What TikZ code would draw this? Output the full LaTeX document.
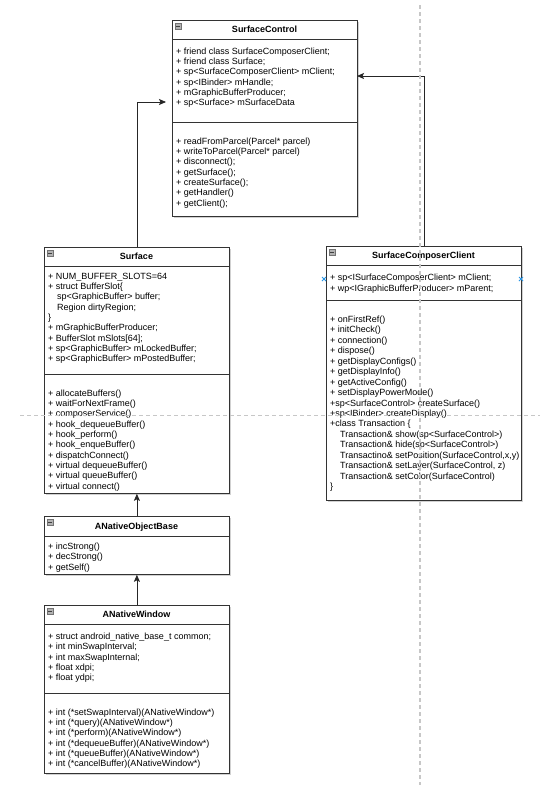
\documentclass[tikz,border=0pt]{standalone}
\usepackage{fontspec}
\setmainfont{Liberation Sans}
\usetikzlibrary{arrows.meta,shadows,calc}
\definecolor{mk}{RGB}{41,150,230}
\tikzset{
  box/.style={draw=black!80, fill=white, line width=0.8pt, inner sep=0pt, anchor=north west,
    drop shadow={shadow xshift=1.2pt, shadow yshift=-1.2pt, opacity=0.18, fill=black}},
  sepline/.style={draw=black!80, line width=0.8pt},
  txt/.style={anchor=north west, inner sep=0pt, align=left, font=\fontsize{9}{10.35}\selectfont},
  txtb/.style={anchor=north west, inner sep=0pt, align=left, font=\fontsize{9}{10.45}\selectfont},
  ttl/.style={anchor=base, inner sep=0pt, font=\fontsize{9}{10.35}\selectfont\bfseries},
  ico/.style={fill=black!30, draw=black!55, line width=0.4pt},
  icominus/.style={draw=black!75, line width=0.6pt},
  conn/.style={draw=black!85, line width=0.8pt, -{Stealth[length=7pt,width=6pt,inset=1.5pt]}},
  guide/.style={draw=black!22, dash pattern=on 4pt off 3pt, line width=1.2pt},
  marker/.style={draw=mk, line width=0.9pt}
}
\begin{document}
\begin{tikzpicture}[x=1pt,y=-1pt]
\useasboundingbox (0,0) rectangle (540,785);
\fill[white] (0,0) rectangle (540,785);

% ---------------- SurfaceControl ----------------
\node[box, minimum width=185pt, minimum height=196pt] (sc) at (172,20) {};
\draw[ico] (175,23) rectangle (181,29);
\draw[icominus] (176.3,26) -- (179.7,26);
\node[ttl] (sct) at (264.5,32.7) {SurfaceControl};
\draw[sepline] (172,39) -- (357,39);
\draw[sepline] (172,122) -- (357,122);
\node[txt] (sca) at (176,46.65) {\strut + friend class SurfaceComposerClient;\\
+ friend class Surface;\\
+ sp<SurfaceComposerClient> mClient;\\
+ sp<IBinder> mHandle;\\
+ mGraphicBufferProducer;\\
+ sp<Surface> mSurfaceData};
\node[txt] (scm) at (176,136.65) {\strut + readFromParcel(Parcel* parcel)\\
+ writeToParcel(Parcel* parcel)\\
+ disconnect();\\
+ getSurface();\\
+ createSurface();\\
+ getHandler()\\
+ getClient();};

% ---------------- Surface ----------------
\node[box, minimum width=185pt, minimum height=246pt] (sf) at (44,247) {};
\draw[ico] (47,250) rectangle (53,256);
\draw[icominus] (48.3,253) -- (51.7,253);
\node[ttl] (sft) at (136.5,259.7) {Surface};
\draw[sepline] (44,266) -- (229,266);
\draw[sepline] (44,374.3) -- (229,374.3);
\node[txt] (sfa) at (48,271.65) {\strut + NUM\_BUFFER\_SLOTS=64\\
+ struct BufferSlot\{\\
\hspace*{9pt}sp<GraphicBuffer> buffer;\\
\hspace*{9pt}Region dirtyRegion;\\
\}\\
+ mGraphicBufferProducer;\\
+ BufferSlot mSlots[64];\\
+ sp<GraphicBuffer> mLockedBuffer;\\
+ sp<GraphicBuffer> mPostedBuffer;};
\node[txt] (sfm) at (48,388.65) {\strut + allocateBuffers()\\
+ waitForNextFrame()\\
+ composerService()\\
+ hook\_dequeueBuffer()\\
+ hook\_perform()\\
+ hook\_enqueBuffer()\\
+ dispatchConnect()\\
+ virtual dequeueBuffer()\\
+ virtual queueBuffer()\\
+ virtual connect()};

% ---------------- SurfaceComposerClient ----------------
\node[box, minimum width=195pt, minimum height=254pt] (scc) at (326,246) {};
\draw[ico] (329,249) rectangle (335,255);
\draw[icominus] (330.3,252) -- (333.7,252);
\node[ttl] (scct) at (423.5,258.7) {SurfaceComposerClient};
\draw[sepline] (326,265) -- (521,265);
\draw[sepline] (326,300.7) -- (521,300.7);
\node[txt] (scca) at (330,273.25) {\strut + sp<ISurfaceComposerClient> mClient;\\
+ wp<IGraphicBufferProducer> mParent;};
\node[txtb] (sccm) at (330,314.95) {\strut + onFirstRef()\\
+ initCheck()\\
+ connection()\\
+ dispose()\\
+ getDisplayConfigs()\\
+ getDisplayInfo()\\
+ getActiveConfig()\\
+ setDisplayPowerMode()\\
+sp<SurfaceControl> createSurface()\\
+sp<IBinder> createDisplay()\\
+class Transaction \{\\
\hspace*{10pt}Transaction\& show(sp<SurfaceControl>)\\
\hspace*{10pt}Transaction\& hide(sp<SurfaceControl>)\\
\hspace*{10pt}Transactino\& setPosition(SurfaceControl,x,y)\\
\hspace*{10pt}Transaction\& setLayer(SurfaceControl, z)\\
\hspace*{10pt}Transaction\& setColor(SurfaceControl)\\
\}};
\coordinate (mkl) at (324,279);
\coordinate (mkr) at (521,279);
\draw[marker] ($(mkl)+(-2,-2)$) -- ($(mkl)+(2,2)$) ($(mkl)+(-2,2)$) -- ($(mkl)+(2,-2)$);
\draw[marker] ($(mkr)+(-2,-2)$) -- ($(mkr)+(2,2)$) ($(mkr)+(-2,2)$) -- ($(mkr)+(2,-2)$);

% ---------------- ANativeObjectBase ----------------
\node[box, minimum width=185pt, minimum height=58pt] (nob) at (44,516) {};
\draw[ico] (47,519) rectangle (53,525);
\draw[icominus] (48.3,522) -- (51.7,522);
\node[ttl] (nobt) at (136.5,529.5) {ANativeObjectBase};
\draw[sepline] (44,536.7) -- (229,536.7);
\node[txt] (noba) at (48,541.95) {\strut + incStrong()\\
+ decStrong()\\
+ getSelf()};

% ---------------- ANativeWindow ----------------
\node[box, minimum width=185pt, minimum height=168pt] (nw) at (44,605) {};
\draw[ico] (47,608) rectangle (53,614);
\draw[icominus] (48.3,611) -- (51.7,611);
\node[ttl] (nwt) at (136.5,617.9) {ANativeWindow};
\draw[sepline] (44,624.3) -- (229,624.3);
\draw[sepline] (44,693.3) -- (229,693.3);
\node[txt] (nwa) at (48,631.95) {\strut + struct android\_native\_base\_t common;\\
+ int minSwapInterval;\\
+ int maxSwapInternal;\\
+ float xdpi;\\
+ float ydpi;};
\node[txt] (nwm) at (48,707.65) {\strut + int (*setSwapInterval)(ANativeWindow*)\\
+ int (*query)(ANativeWindow*)\\
+ int (*perform)(ANativeWindow*)\\
+ int (*dequeueBuffer)(ANativeWindow*)\\
+ int (*queueBuffer)(ANativeWindow*)\\
+ int (*cancelBuffer)(ANativeWindow*)};

% ---------------- connectors ----------------
\coordinate (scin1) at (166,102);
\coordinate (scin2) at (357,76);
\draw[conn] (sf.north) |- (scin1);
\draw[conn] (scc.north) |- (scin2);
\draw[conn] (nob.north) -- (sf.south);
\draw[conn] (nw.north) -- (nob.south);

% ---------------- guides ----------------
\coordinate (gv1) at (420,5);
\coordinate (gv2) at (420,785);
\coordinate (gh1) at (20,415.5);
\coordinate (gh2) at (540,415.5);
\draw[guide] (gv1) -- (gv2);
\draw[guide] (gh1) -- (gh2);
\end{tikzpicture}
\end{document}
